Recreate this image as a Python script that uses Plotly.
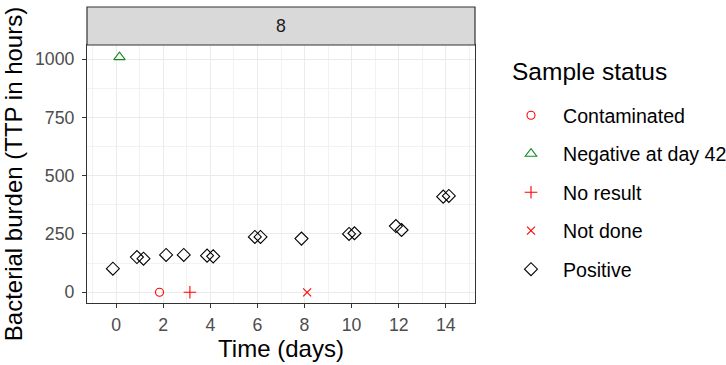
import plotly.graph_objects as go

# Data (time in days, TTP in hours)
contaminated_x = [1.84]
contaminated_y = [0]
negative_x = [0.14]
negative_y = [1008]
noresult_x = [3.13]
noresult_y = [0]
notdone_x = [8.11]
notdone_y = [0]
positive_x = [-0.14, 0.88, 1.16, 2.12, 2.87, 3.86, 4.12, 5.89, 6.13, 7.87, 9.89, 10.12, 11.88, 12.12, 13.89, 14.13]
positive_y = [101, 151, 144, 160, 160, 157, 154, 237, 237, 230, 250, 253, 284, 267, 410, 413]

x_ticks = [0, 2, 4, 6, 8, 10, 12, 14]
y_ticks = [0, 250, 500, 750, 1000]
panel_label = "8"
legend_title = "Sample status"

W, H = 726, 365
L, T = 87, 45
pw, ph = 388, 258
R = W - L - pw
B = H - T - ph

RED = "#FF0000"
GREEN = "#138a22"

series = [
    ("Contaminated", contaminated_x, contaminated_y, "circle-open", RED, 8),
    ("Negative at day 42", negative_x, negative_y, "triangle-up-open", GREEN, 10),
    ("No result", noresult_x, noresult_y, "cross-thin-open", RED, 9),
    ("Not done", notdone_x, notdone_y, "x-thin-open", RED, 8),
    ("Positive", positive_x, positive_y, "diamond-open", "#000000", 10),
]

fig = go.Figure()
for name, xs, ys, sym, col, sz in series:
    fig.add_trace(go.Scatter(
        x=xs, y=ys, mode="markers", name=name, legendgroup=name,
        marker=dict(symbol=sym, size=sz, color=col, line=dict(color=col, width=1.1)),
    ))

minor_grid = dict(showgrid=True, gridcolor="#f2f2f2", gridwidth=0.6)

fig.update_xaxes(
    range=[-1.24, 15.24], tickvals=x_ticks, ticktext=[str(v) for v in x_ticks],
    showgrid=True, gridcolor="#ebebeb", gridwidth=1.1,
    minor=dict(tickvals=[-1, 1, 3, 5, 7, 9, 11, 13, 15], **minor_grid),
    ticks="outside", ticklen=4, tickcolor="#333333", tickwidth=1,
    tickfont=dict(size=17.7, color="#4d4d4d"), ticklabelstandoff=2,
    title=dict(text="Time (days)", font=dict(size=24, color="#000000"), standoff=4),
    zeroline=False, showline=True, linecolor="#333333", linewidth=1.2, mirror=True,
)
fig.update_yaxes(
    range=[-46, 1060], tickvals=y_ticks, ticktext=[str(v) for v in y_ticks],
    showgrid=True, gridcolor="#ebebeb", gridwidth=1.1,
    minor=dict(tickvals=[125, 375, 625, 875], **minor_grid),
    ticks="outside", ticklen=4, tickcolor="#333333", tickwidth=1,
    tickfont=dict(size=17.7, color="#4d4d4d"), ticklabelstandoff=4,
    title=dict(text="Bacterial burden (TTP in hours)", font=dict(size=24, color="#000000"), standoff=40),
    zeroline=False, showline=True, linecolor="#333333", linewidth=1.2, mirror=True,
)

strip_h = 38 / ph
fig.add_shape(type="rect", xref="paper", yref="paper", x0=0, x1=1, y0=1, y1=1 + strip_h,
              fillcolor="#d9d9d9", line=dict(color="#333333", width=1.2), layer="above")
fig.add_annotation(text=panel_label, xref="paper", yref="paper", x=0.5, y=1 + strip_h / 2,
                   showarrow=False, font=dict(size=17.7, color="#1a1a1a"), xanchor="center", yanchor="middle")

# legend title as annotation
fig.add_annotation(text=legend_title, xref="paper", yref="paper",
                   x=(510 - L) / pw, y=(T + ph - 72) / ph, xanchor="left", yanchor="middle",
                   showarrow=False, font=dict(size=24.5, color="#000000"))

fig.update_layout(
    width=W, height=H,
    margin=dict(l=L, r=R, t=T, b=B, pad=0, autoexpand=False),
    paper_bgcolor="white", plot_bgcolor="white",
    font=dict(family="Liberation Sans, Arial, sans-serif"),
    showlegend=True,
    legend=dict(
        x=(499 - L) / pw, y=(T + ph - 96) / ph, xanchor="left", yanchor="top",
        font=dict(size=19.6, color="#000000"),
        tracegroupgap=10, itemwidth=54, bgcolor="rgba(0,0,0,0)",
    ),
)

fig.write_html("out.html", config={"displayModeBar": False},
               post_script="document.body.style.margin='0';document.body.style.overflow='hidden';")
